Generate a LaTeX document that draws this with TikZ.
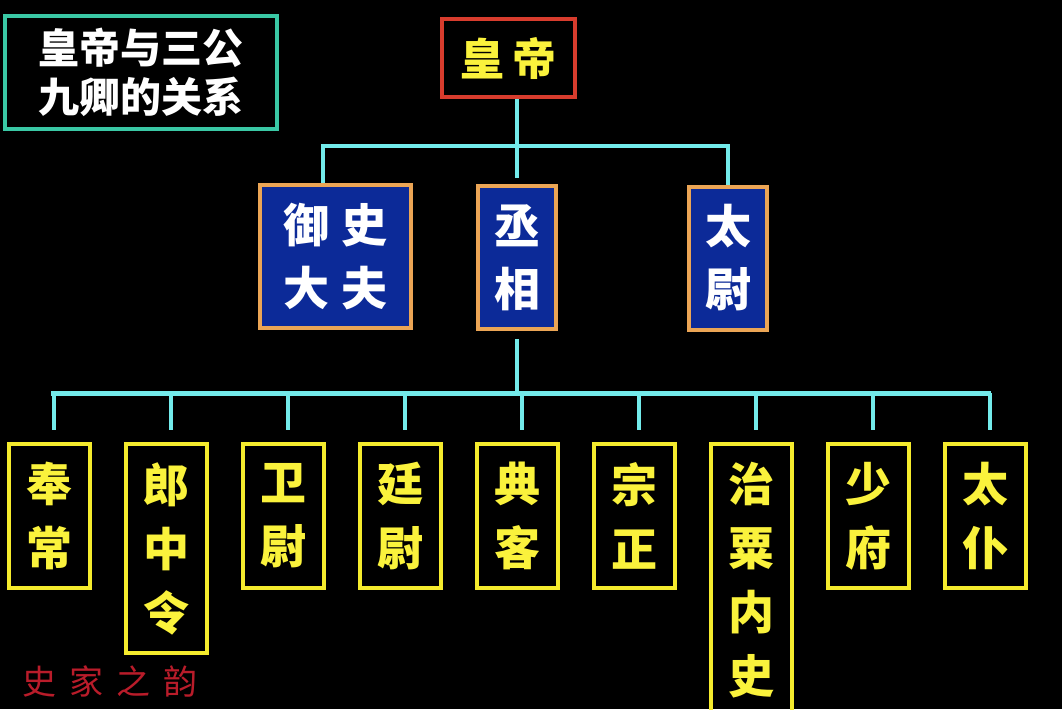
\documentclass[tikz,border=0pt]{standalone}
\usepackage{fontspec}
\newfontfamily\cjk{Noto Sans CJK SC}
\usetikzlibrary{calc}

\definecolor{titlegreen}{RGB}{58,200,165}
\definecolor{emperorred}{RGB}{215,60,45}
\definecolor{linkcyan}{RGB}{115,235,235}
\definecolor{gongblue}{RGB}{12,42,152}
\definecolor{gongorange}{RGB}{235,165,85}
\definecolor{qingyellow}{RGB}{245,235,45}
\definecolor{textyellow}{RGB}{250,242,60}
\definecolor{markred}{RGB}{185,28,42}

\tikzset{
  titlebox/.style={draw=titlegreen,line width=4pt,text=white,align=center,
    minimum width=272pt,minimum height=113pt,
    font=\cjk\bfseries\fontsize{41}{49}\selectfont},
  emperorbox/.style={draw=emperorred,line width=4pt,text=textyellow,
    minimum width=133pt,minimum height=78pt,
    font=\cjk\bfseries\fontsize{44}{50}\selectfont},
  gongbox/.style={draw=gongorange,fill=gongblue,line width=4pt,text=white,align=center,
    minimum height=143pt,font=\cjk\bfseries\fontsize{46}{63}\selectfont},
  qingbox/.style={draw=qingyellow,line width=4pt,text=textyellow,align=center,
    anchor=north,minimum width=81pt,font=\cjk\bfseries\fontsize{46}{64}\selectfont},
  link/.style={draw=linkcyan,line width=4pt},
  linkbar/.style={draw=linkcyan,line width=5pt,line cap=rect}
}

\begin{document}
\begin{tikzpicture}[x=1pt,y=-1pt]

  \useasboundingbox (0,0) rectangle (1062,709);
  \clip (0,0) rectangle (1062,709);
  \fill[black] (0,0) rectangle (1062,709);

  % title
  \node[titlebox] (title) at (141,72.5) {皇帝与三公\\九卿的关系};

  % emperor and the three lords
  \node[emperorbox] (huangdi) at (508.5,58) {皇\hspace{9pt}帝};

  \node[gongbox,minimum width=151pt] (yushi) at (335.5,256.5) {御\hspace{12pt}史\\大\hspace{12pt}夫};
  \node[gongbox,minimum width=78pt] (chengxiang) at (517,257.5) {丞\\相};
  \node[gongbox,minimum width=78pt] (taiwei) at (728,258) {太\\尉};

  \coordinate (bartop) at (323,146);
  \draw[link] (huangdi.south -| chengxiang.north) -- (chengxiang.north |- bartop);
  \draw[link,shorten >=6pt] (chengxiang.north |- bartop) -- (chengxiang.north);
  \draw[link] (yushi.north -| bartop) -- (bartop) -| (taiwei.north);

  % the nine ministers
  \node[qingbox,minimum height=144pt] (fengchang) at (49.5,442) {奉\\常};
  \node[qingbox,minimum height=209pt] (langzhong) at (166.5,442) {郎\\中\\令};
  \node[qingbox,minimum height=144pt] (weiwei) at (283.5,442) {卫\\尉};
  \node[qingbox,minimum height=144pt] (tingwei) at (400.5,442) {廷\\尉};
  \node[qingbox,minimum height=144pt] (dianke) at (517.5,442) {典\\客};
  \node[qingbox,minimum height=144pt] (zongzheng) at (634.5,442) {宗\\正};
  \node[qingbox,minimum height=273pt] (zhisu) at (751.5,442) {治\\粟\\内\\史};
  \node[qingbox,minimum height=144pt] (shaofu) at (868.5,442) {少\\府};
  \node[qingbox,minimum height=144pt] (taipu) at (985.5,442) {太\\仆};

  \coordinate (barlow) at (521,393);
  \draw[link,shorten <=8pt] (chengxiang.south) -- (chengxiang.south |- barlow);
  \draw[linkbar] ([xshift=4pt]fengchang.north |- barlow) -- ([xshift=3pt]taipu.north |- barlow);
  \foreach \name in {fengchang,langzhong,weiwei,tingwei,dianke,zongzheng,zhisu,shaofu,taipu}
    \draw[link,shorten >=12pt] ([xshift=4pt]\name.north |- barlow) -- ([xshift=4pt]\name.north);

  % watermark
  \node[text=markred,font=\cjk\fontsize{34}{38}\selectfont] (shuiyin) at (110,681)
    {史\hspace{13pt}家\hspace{13pt}之\hspace{13pt}韵};

\end{tikzpicture}
\end{document}
